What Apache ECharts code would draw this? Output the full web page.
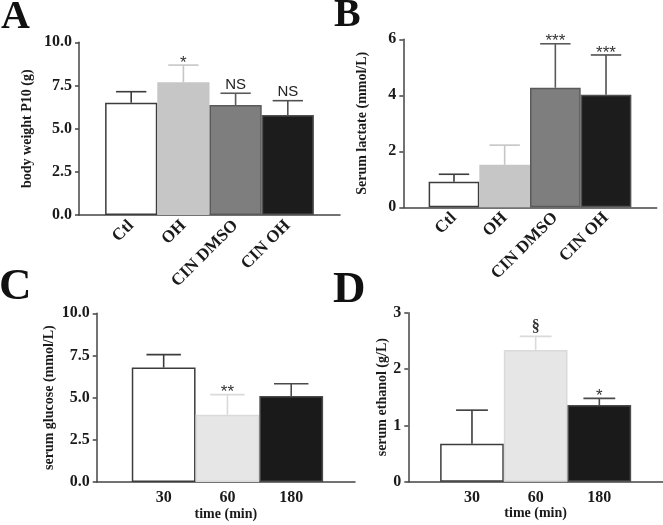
<!DOCTYPE html>
<html><head><meta charset="utf-8">
<script src="https://cdn.jsdelivr.net/npm/echarts@6/dist/echarts.min.js"></script>
<style>html,body{margin:0;padding:0;background:#fff}#c{width:663px;height:525px}</style>
</head><body><div id="c"></div>
<script>
// ---- data ----
const groupCats = ['Ctl', 'OH', 'CIN DMSO', 'CIN OH'];
const timeCats = ['30', '60', '180'];

const weightMean = [6.5, 7.68, 6.37, 5.79];
const weightErr  = [0.64, 1.0, 0.68, 0.83];
const weightMarks = ['', '*', 'NS', 'NS'];

const lactateMean = [0.91, 1.52, 4.27, 4.02];
const lactateErr  = [0.27, 0.70, 1.57, 1.42];
const lactateMarks = ['', '', '***', '***'];

const glucoseMean = [6.78, 3.98, 5.10];
const glucoseErr  = [0.77, 1.20, 0.72];
const glucoseMarks = ['', '**', ''];

const ethanolMean = [0.675, 2.34, 1.36];
const ethanolErr  = [0.595, 0.24, 0.12];
const ethanolMarks = ['', '§', '*'];

const yTicksA = ['0.0', '2.5', '5.0', '7.5', '10.0'];
const yTicksB = ['0', '2', '4', '6'];
const yTicksC = ['0.0', '2.5', '5.0', '7.5', '10.0'];
const yTicksD = ['0', '1', '2', '3'];

// ---- styles ----
const SERIF = 'Liberation Serif';
const SANS = 'Liberation Sans';
const fillsAB = ['#ffffff', '#c6c6c6', '#7e7e7e', '#1c1c1c'];
const edgesAB = ['#3c3c3c', '#c6c6c6', '#5a5a5a', '#505050'];
const fillsCD = ['#ffffff', '#e6e6e6', '#1a1a1a'];
const edgesCD = ['#3c3c3c', '#dadada', '#4a4a4a'];
const AX = '#444';

const grids = [
  { left: 79, top: 42.3, width: 261, height: 172.7 },
  { left: 403.3, top: 39.3, width: 253.4, height: 168 },
  { left: 96.7, top: 313.3, width: 258.3, height: 168.7 },
  { left: 408.3, top: 312.7, width: 254.7, height: 169 }
];

function xAxis(idx, cats, min, max, rotated) {
  return {
    type: 'value', gridIndex: idx, min: min, max: max,
    axisLine: { show: true, onZero: false, lineStyle: { color: AX, width: 1.5 } },
    axisTick: { show: false },
    splitLine: { show: false },
    axisLabel: {
      customValues: cats.map((c, i) => i),
      formatter: v => cats[Math.round(v)] ?? '',
      rotate: rotated ? 45 : 0,
      margin: rotated ? 8 : 8,
      fontFamily: SERIF, fontWeight: 'bold', fontSize: rotated ? 17 : 16, color: '#1a1a1a'
    },
    name: rotated ? '' : 'time (min)',
    nameLocation: 'middle', nameGap: 21,
    nameTextStyle: { fontFamily: SERIF, fontWeight: 'bold', fontSize: 14, color: '#1a1a1a' }
  };
}
function yAxis(idx, ticks, max, interval, name, gap) {
  return {
    type: 'value', gridIndex: idx, min: 0, max: max, interval: interval,
    axisLine: { show: true, onZero: false, lineStyle: { color: AX, width: 1.5 } },
    axisTick: { show: true, inside: false, length: 4, lineStyle: { color: AX, width: 1.5 } },
    splitLine: { show: false },
    axisLabel: {
      formatter: v => ticks[Math.round(v / interval)],
      margin: 7, fontFamily: SERIF, fontWeight: 'bold', fontSize: 16, color: '#1a1a1a'
    },
    name: name, nameLocation: 'middle', nameGap: gap,
    nameTextStyle: { fontFamily: SERIF, fontWeight: 'bold', fontSize: 14, color: '#1a1a1a' }
  };
}
function barSeries(idx, means, fills, edges) {
  return {
    type: 'bar', xAxisIndex: idx, yAxisIndex: idx, barWidth: '100%',
    data: means.map((m, i) => ({
      value: [i, m],
      itemStyle: { color: fills[i], borderColor: edges[i], borderWidth: 1.5 }
    })),
    animation: false
  };
}
function errSeries(idx, means, errs, marks, edges, capHalf, markStyle) {
  return {
    type: 'custom', xAxisIndex: idx, yAxisIndex: idx, z: 5,
    data: means.map((m, i) => [i, m, errs[i]]),
    encode: { x: 0, y: 1 },
    renderItem: function (params, api) {
      const x = api.value(0), m = api.value(1), e = api.value(2);
      const p0 = api.coord([x, m]);
      const p1 = api.coord([x, m + e]);
      const w = api.size([1, 0])[0];
      const c = edges[params.dataIndex];
      const children = [
        { type: 'line', shape: { x1: p0[0], y1: p0[1], x2: p1[0], y2: p1[1] }, style: { stroke: c, lineWidth: 1.6 } },
        { type: 'line', shape: { x1: p1[0] - w * capHalf, y1: p1[1], x2: p1[0] + w * capHalf, y2: p1[1] }, style: { stroke: c, lineWidth: 1.6 } }
      ];
      const t = marks[params.dataIndex];
      if (t) {
        const st = markStyle(t);
        children.push({
          type: 'text',
          style: {
            text: t, x: p1[0], y: p1[1] + st.dy, align: 'center', verticalAlign: st.va,
            fontFamily: st.family, fontSize: st.size, fontWeight: st.weight, fill: st.color
          }
        });
      }
      return { type: 'group', children: children };
    },
    animation: false
  };
}
const markStyle = t => t.startsWith('*')
  ? { family: SANS, size: 17, weight: 'normal', color: '#333', dy: -2, va: 'middle' }
  : (t === 'NS'
    ? { family: SANS, size: 15, weight: 'normal', color: '#222', dy: -1, va: 'bottom' }
    : { family: SERIF, size: 16, weight: 'bold', color: '#333', dy: -2, va: 'bottom' });

function letter(txt, x, y, size) {
  return { type: 'text', left: x, top: y, style: { text: txt, font: 'bold ' + size + 'px "' + SERIF + '"', fill: '#111' } };
}

const option = {
  backgroundColor: '#fff',
  animation: false,
  grid: grids,
  xAxis: [
    xAxis(0, groupCats, -1, 4, true),
    xAxis(1, groupCats, -1, 4, true),
    xAxis(2, timeCats, -1.05, 3, false),
    xAxis(3, timeCats, -1, 3, false)
  ],
  yAxis: [
    yAxis(0, yTicksA, 10, 2.5, 'body weight P10 (g)', 45),
    yAxis(1, yTicksB, 6, 2, 'Serum lactate (mmol/L)', 34),
    yAxis(2, yTicksC, 10, 2.5, 'serum glucose (mmol/L)', 40),
    yAxis(3, yTicksD, 3, 1, 'serum ethanol (g/L)', 18)
  ],
  series: [
    barSeries(0, weightMean, fillsAB, edgesAB),
    errSeries(0, weightMean, weightErr, weightMarks, edgesAB, 0.29, markStyle),
    barSeries(1, lactateMean, fillsAB, edgesAB),
    errSeries(1, lactateMean, lactateErr, lactateMarks, edgesAB, 0.3, markStyle),
    barSeries(2, glucoseMean, fillsCD, edgesCD),
    errSeries(2, glucoseMean, glucoseErr, glucoseMarks, edgesCD, 0.27, markStyle),
    barSeries(3, ethanolMean, fillsCD, edgesCD),
    errSeries(3, ethanolMean, ethanolErr, ethanolMarks, edgesCD, 0.25, markStyle)
  ],
  graphic: [
    letter('A', 1, -2, 40),
    letter('B', 334, -4, 40),
    letter('C', -1, 265, 45),
    letter('D', 333, 268, 45)
  ]
};
const chart = echarts.init(document.getElementById('c'), null, { renderer: 'canvas' });
chart.setOption(option);
</script>
</body></html>
